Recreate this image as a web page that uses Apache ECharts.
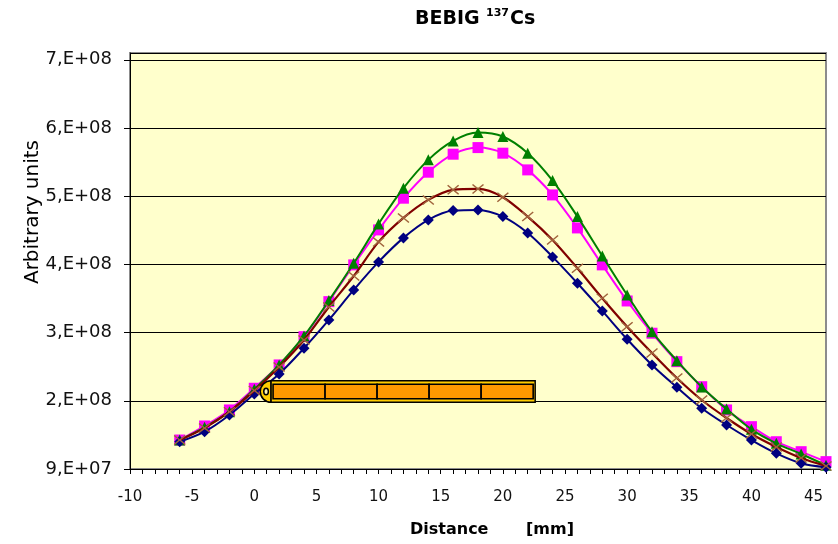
<!DOCTYPE html>
<html>
<head>
<meta charset="utf-8">
<script src="https://cdn.jsdelivr.net/npm/echarts@6/dist/echarts.min.js"></script>
<style>
html,body{margin:0;padding:0;background:#fff;}
#chart{width:838px;height:544px;}
</style>
</head>
<body>
<div id="chart"></div>
<script>
// Distance [mm]
const distances = [-6,-4,-2,0,2,4,6,8,10,12,14,16,18,20,22,24,26,28,30,32,34,36,38,40,42,44,46];
// Series values (arbitrary units)
const magentaSquares = [1.325e8,1.531e8,1.766e8,2.084e8,2.426e8,2.841e8,3.354e8,3.893e8,4.406e8,4.871e8,5.252e8,5.516e8,5.613e8,5.531e8,5.286e8,4.919e8,4.435e8,3.893e8,3.364e8,2.891e8,2.474e8,2.107e8,1.766e8,1.521e8,1.300e8,1.154e8,1.008e8];
const greenTriangles = [1.325e8,1.511e8,1.741e8,2.069e8,2.426e8,2.851e8,3.369e8,3.917e8,4.494e8,5.018e8,5.433e8,5.711e8,5.833e8,5.775e8,5.531e8,5.129e8,4.601e8,4.025e8,3.452e8,2.914e8,2.489e8,2.103e8,1.780e8,1.482e8,1.277e8,1.120e8,0.955e8];
const blueDiamonds = [1.300e8,1.447e8,1.692e8,2.001e8,2.294e8,2.671e8,3.086e8,3.526e8,3.937e8,4.289e8,4.553e8,4.689e8,4.699e8,4.601e8,4.362e8,4.010e8,3.624e8,3.218e8,2.803e8,2.426e8,2.099e8,1.790e8,1.545e8,1.325e8,1.130e8,0.984e8,0.925e8];
const brownCrosses = [1.325e8,1.500e8,1.740e8,2.050e8,2.396e8,2.792e8,3.276e8,3.730e8,4.230e8,4.582e8,4.846e8,4.993e8,5.007e8,4.886e8,4.601e8,4.259e8,3.844e8,3.404e8,2.987e8,2.602e8,2.235e8,1.912e8,1.648e8,1.413e8,1.223e8,1.061e8,0.944e8];
// Axis settings
const xMin = -10, xMax = 46, xStep = 1, xLabelEvery = 5;
const yMin = 9e7, yMax = 7e8, yStep = 1e8;
// Source train drawing (in data units)
const seedTrain = { start: 1.35, end: 22.6, cells: 5, top: 2.195e8, bottom: 1.878e8 };

function pair(arr){ return distances.map((x,i)=>[x, arr[i]]); }
function sciLabel(v){
  if (v <= 0) return '0';
  let e = Math.floor(Math.log10(v) + 1e-9);
  let m = Math.round(v / Math.pow(10, e));
  if (m >= 10) { m = 1; e += 1; }
  return m + ',E+' + String(e).padStart(2,'0');
}

const FONT = '"DejaVu Sans", "Liberation Sans", Arial, sans-serif';
const crossPath = 'path://M0,1L1,0L6,4.2L11,0L12,1L7.2,5L12,9L11,10L6,5.8L1,10L0,9L4.8,5Z';

const chart = echarts.init(document.getElementById('chart'), null, {renderer:'canvas'});
chart.setOption({
  animation: false,
  backgroundColor: '#ffffff',
  grid: { left: 130, right: 12, top: 53, bottom: 75, show: true, backgroundColor: '#FFFFCC', borderColor: '#8c8c8c', borderWidth: 2 },
  xAxis: {
    type: 'value', min: xMin, max: xMax, interval: xStep,
    axisLine: { show: true, onZero: false, lineStyle: { color: '#000', width: 1 } },
    axisTick: { show: true, length: 5, lineStyle: { color: '#000' } },
    splitLine: { show: false },
    axisLabel: {
      margin: 21, color: '#111', fontSize: 15, fontFamily: FONT,
      formatter: v => (Math.abs(v % xLabelEvery) < 1e-9 ? String(v) : '')
    }
  },
  yAxis: {
    type: 'value', min: yMin, max: yMax, interval: yStep,
    axisLine: { show: true, onZero: false, lineStyle: { color: '#000', width: 1 } },
    axisTick: { show: true, length: 6, lineStyle: { color: '#000' } },
    splitLine: { show: true, lineStyle: { color: '#000', width: 1 } },
    axisLabel: { margin: 18, color: '#111', fontSize: 18, fontFamily: FONT, showMaxLabel: false, formatter: sciLabel }
  },
  graphic: [
    { type:'text', x:415, y:19, style:{ text:'BEBIG', fill:'#000', fontSize:19, fontWeight:'bold', fontFamily:FONT, textAlign:'left', textVerticalAlign:'middle' } },
    { type:'text', x:486, y:13, style:{ text:'137', fill:'#000', fontSize:11, fontWeight:'bold', fontFamily:FONT, textAlign:'left', textVerticalAlign:'middle' } },
    { type:'text', x:510, y:19, style:{ text:'Cs', fill:'#000', fontSize:19, fontWeight:'bold', fontFamily:FONT, textAlign:'left', textVerticalAlign:'middle' } },
    { type:'text', x:33, y:212, rotation: Math.PI/2, style:{ text:'Arbitrary units', fill:'#000', fontSize:20, fontFamily:FONT, textAlign:'center', textVerticalAlign:'middle' } },
    { type:'text', x:410, y:530, style:{ text:'Distance', fill:'#000', fontSize:16, fontWeight:'bold', fontFamily:FONT, textAlign:'left', textVerticalAlign:'middle' } },
    { type:'text', x:526, y:530, style:{ text:'[mm]', fill:'#000', fontSize:16, fontWeight:'bold', fontFamily:FONT, textAlign:'left', textVerticalAlign:'middle' } }
  ],
  series: [
    { name:'magenta', type:'line', data: pair(magentaSquares), smooth: 0.35, symbol:'rect', symbolSize: 11,
      lineStyle:{ color:'#FF00FF', width:2 }, itemStyle:{ color:'#FF00FF' }, z: 2 },
    { name:'green', type:'line', data: pair(greenTriangles), smooth: 0.35, symbol:'triangle', symbolSize: 11,
      lineStyle:{ color:'#008000', width:2 }, itemStyle:{ color:'#008000' }, z: 3 },
    { name:'blue', type:'line', data: pair(blueDiamonds), smooth: 0.35, symbol:'diamond', symbolSize: 11,
      lineStyle:{ color:'#000080', width:2 }, itemStyle:{ color:'#000080' }, z: 4 },
    { name:'brown', type:'line', data: pair(brownCrosses), smooth: 0.3, symbol: crossPath, symbolSize: [12,10],
      lineStyle:{ color:'#800000', width:2.2 }, itemStyle:{ color:'#A0643C' }, z: 5 },
    { name:'source', type:'custom', z: 10, silent: true, clip: false,
      data: [[seedTrain.start, seedTrain.top]],
      renderItem: function(params, api){
        const p0 = api.coord([seedTrain.start, seedTrain.top]);
        const p1 = api.coord([seedTrain.end, seedTrain.bottom]);
        const w = p1[0]-p0[0], h = p1[1]-p0[1];
        const mid = p0[1] + h/2;
        const children = [];
        children.push({ type:'sector', shape:{ cx:p0[0], cy:mid, r0:0, r:h/2, startAngle:Math.PI/2, endAngle:Math.PI*1.5, clockwise:true },
          style:{ fill:'#FFCC00', stroke:'#000', lineWidth:1.5 } });
        children.push({ type:'ellipse', shape:{ cx:p0[0]-5, cy:mid, rx:2.3, ry:3.3 }, style:{ fill:'#FFF4B0', stroke:'#000', lineWidth:1.5 } });
        children.push({ type:'rect', shape:{ x:p0[0], y:p0[1], width:w, height:h }, style:{ fill:'#FFCC00', stroke:'#000', lineWidth:1.5 } });
        const cw = (w-4)/seedTrain.cells;
        for (let i=0;i<seedTrain.cells;i++){
          children.push({ type:'rect', shape:{ x:p0[0]+2+i*cw, y:p0[1]+3.5, width:cw, height:h-7 }, style:{ fill:'#FF9900', stroke:'#000', lineWidth:1.6 } });
        }
        return { type:'group', children };
      }
    }
  ]
});
</script>
</body>
</html>
